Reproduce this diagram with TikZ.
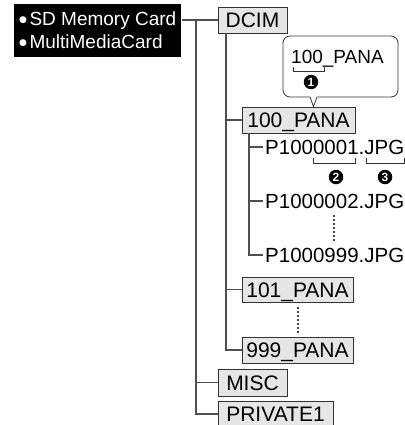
\documentclass[tikz,border=0pt]{standalone}
\usepackage{fontspec}
\setmainfont{Liberation Sans}
\newfontfamily\dejavu{DejaVu Sans}
\newcommand\cardbul{\raisebox{3.6pt}{\dejavu\fontsize{9}{9}\selectfont ●}\hspace{2.5pt}}
\definecolor{boxfill}{HTML}{E6E6E6}
\definecolor{linegray}{HTML}{505050}
\tikzset{
 conn/.style={draw=linegray, line width=1.4pt},
 folder/.style={draw=black!80, line width=0.8pt, fill=boxfill, inner sep=0pt, text height=15pt, text depth=0pt, font=\fontsize{21}{21}\selectfont},
 fname/.style={anchor=west, inner xsep=2pt, inner ysep=0pt, text height=14.7pt, text depth=0pt, font=\fontsize{20.5}{20.5}\selectfont},
 num/.style={circle, fill=black, text=white, inner sep=0pt, minimum size=14.5pt, font=\bfseries\fontsize{12}{12}\selectfont},
 brk/.style={draw=black!80, line width=0.8pt},
 vdots/.style={draw=black, line width=2.1pt, line cap=round, dash pattern=on 0pt off 4pt},
}
\begin{document}
\begin{tikzpicture}[x=1pt,y=-1pt]
\useasboundingbox (0,0) rectangle (404,425);
\node[fill=black, text=white, anchor=north west, minimum width=167pt, minimum height=53pt, inner xsep=5pt, inner ysep=0pt, align=left, font=\fontsize{19}{23}\selectfont] (card) at (14,4) {\cardbul SD Memory Card\\\cardbul MultiMediaCard};
\node[folder, minimum width=69pt, minimum height=26pt] (dcim) at (252.5,20) {DCIM};
\node[folder, minimum width=113pt, minimum height=26pt] (p100) at (298.5,120) {100\_PANA};
\node[folder, minimum width=111pt, minimum height=25pt] (p101) at (297.5,289.5) {101\_PANA};
\node[folder, minimum width=111pt, minimum height=26pt] (p999) at (297.5,350) {999\_PANA};
\node[folder, minimum width=69pt, minimum height=27pt] (misc) at (252.5,382.5) {MISC};
\node[folder, minimum width=115pt, minimum height=26pt] (priv) at (275.5,414) {PRIVATE1};
\node[fname] (f1) at (263,147) {P1000001.JPG};
\node[fname] (f2) at (263,201) {P1000002.JPG};
\node[fname] (f999) at (263,255) {P1000999.JPG};
\coordinate (tr) at (196,20);
\draw[conn] (card.east |- dcim.west) -- (dcim.west);
\draw[conn] (tr) |- (priv.west);
\draw[conn] (tr |- misc.west) -- (misc.west);
\coordinate (dt) at (226,0);
\draw[conn] (dt |- dcim.south) |- (p999.west);
\draw[conn] (dt |- p100.west) -- (p100.west);
\draw[conn] (dt |- p101.west) -- (p101.west);
\coordinate (pt) at (249,0);
\draw[conn] (pt |- p100.south) |- (f999.west);
\draw[conn] (pt |- f1.west) -- (f1.west);
\draw[conn] (pt |- f2.west) -- (f2.west);
\coordinate (tip) at (313.5,0);
\draw[brk, rounded corners=7pt] (310,97) -- (283,97) -- (283,36) -- (398,36) -- (398,97) -- (317,97);
\draw[brk] (310,97) -- (tip |- p100.north) -- (317,97);
\node[anchor=base west, inner sep=0pt, font=\fontsize{19}{19}\selectfont] (ctext) at (291,64) {100\_PANA};
\draw[brk] (293,67) -- (293,71) -- (324,71) -- (324,67);
\node[num] (n1) at (311,82) {1};
\draw[brk] (313,158) -- (313,163) -- (355,163) -- (355,158);
\draw[brk] (366,158) -- (366,163) -- (404,163) -- (404,158);
\node[num] (n2) at (336,177) {2};
\node[num] (n3) at (385,177) {3};
\draw[vdots] (334,216) -- (334,240);
\draw[vdots] (298,308) -- (298,332);
\end{tikzpicture}
\end{document}
